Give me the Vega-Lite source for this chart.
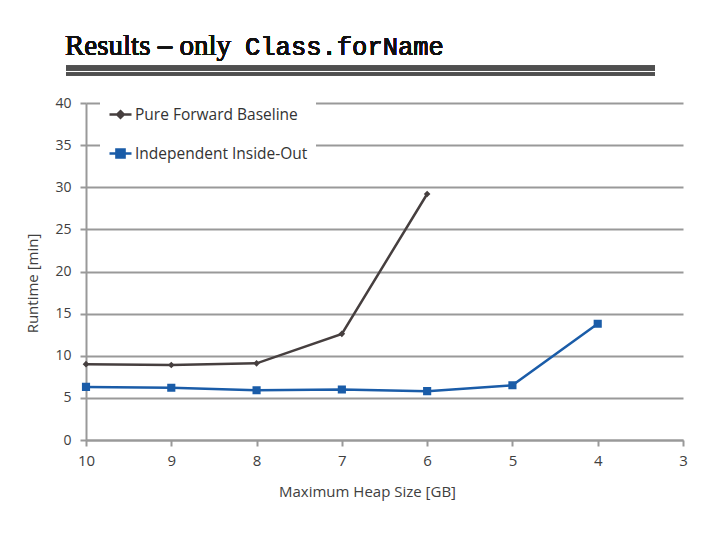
{
  "$schema": "https://vega.github.io/schema/vega-lite/v6.json",
  "autosize": {"type": "none"},
  "padding": {"left": 86, "top": 103, "right": 37, "bottom": 100},
  "width": 597,
  "height": 337,
  "background": "white",
  "config": {"view": {"stroke": null}, "font": "Open Sans"},
  "data": {
    "values": [
      {"heap": 10, "runtime": 9.0, "series": "Pure Forward Baseline"},
      {"heap": 9, "runtime": 8.9, "series": "Pure Forward Baseline"},
      {"heap": 8, "runtime": 9.1, "series": "Pure Forward Baseline"},
      {"heap": 7, "runtime": 12.6, "series": "Pure Forward Baseline"},
      {"heap": 6, "runtime": 29.2, "series": "Pure Forward Baseline"},
      {"heap": 10, "runtime": 6.3, "series": "Independent Inside-Out"},
      {"heap": 9, "runtime": 6.2, "series": "Independent Inside-Out"},
      {"heap": 8, "runtime": 5.9, "series": "Independent Inside-Out"},
      {"heap": 7, "runtime": 6.0, "series": "Independent Inside-Out"},
      {"heap": 6, "runtime": 5.8, "series": "Independent Inside-Out"},
      {"heap": 5, "runtime": 6.5, "series": "Independent Inside-Out"},
      {"heap": 4, "runtime": 13.8, "series": "Independent Inside-Out"}
    ]
  },
  "layer": [
    {
      "mark": {"type": "line", "strokeWidth": 2.5},
      "encoding": {
        "x": {
          "field": "heap", "type": "quantitative",
          "scale": {"domain": [3, 10], "reverse": true, "nice": false, "zero": false},
          "axis": {
            "title": "Maximum Heap Size [GB]", "values": [3, 4, 5, 6, 7, 8, 9, 10], "format": "d",
            "grid": false, "domainColor": "#999999", "domainWidth": 2,
            "tickColor": "#999999", "tickWidth": 2, "tickSize": 6, "labelFlush": false,
            "labelFontSize": 15, "labelColor": "#404040", "labelPadding": 7, "labelFont": "Open Sans",
            "titleFontSize": 15, "titleColor": "#404040", "titleFontWeight": "normal", "titleFont": "Open Sans",
            "titleX": 281, "titleY": 44
          }
        },
        "y": {
          "field": "runtime", "type": "quantitative",
          "scale": {"domain": [0, 40], "nice": false},
          "axis": {
            "title": "Runtime [min]", "values": [0, 5, 10, 15, 20, 25, 30, 35, 40],
            "grid": true, "gridColor": "#999999", "gridWidth": 2, "labelFlush": false,
            "domainColor": "#999999", "domainWidth": 2,
            "tickColor": "#999999", "tickWidth": 2, "tickSize": 6,
            "labelFontSize": 14, "labelColor": "#404040", "labelPadding": 9, "labelFont": "Open Sans",
            "titleFontSize": 15, "titleColor": "#404040", "titleFontWeight": "normal", "titleFont": "Open Sans",
            "titleX": -46, "titleY": 180
          }
        },
        "color": {
          "field": "series", "type": "nominal",
          "scale": {"domain": ["Pure Forward Baseline", "Independent Inside-Out"], "range": ["#463f3f", "#1a5ca8"]},
          "legend": {
            "title": null, "orient": "none", "legendX": 14, "legendY": -9,
            "fillColor": "white", "padding": 8, "rowPadding": 18, "labelLimit": 400,
            "labelFontSize": 15.5, "labelColor": "#333333", "labelFont": "Open Sans", "labelOffset": 2,
            "symbolSize": 484, "symbolStrokeWidth": 2.5
          }
        }
      }
    },
    {
      "mark": {"type": "point", "filled": true, "opacity": 1, "size": 484},
      "encoding": {
        "x": {"field": "heap", "type": "quantitative"},
        "y": {"field": "runtime", "type": "quantitative"},
        "color": {"field": "series", "type": "nominal"},
        "shape": {
          "field": "series", "type": "nominal",
          "scale": {"domain": ["Pure Forward Baseline", "Independent Inside-Out"], "range": ["M-1,0H1M0,-0.3L0.3,0L0,0.3L-0.3,0Z", "M-1,0H1M-0.37,-0.37H0.37V0.37H-0.37Z"]}
        }
      }
    },
    {
      "mark": {"type": "rule", "color": "#4f4f4f", "strokeWidth": 4.5},
      "encoding": {
        "x": {"datum": 10.234, "type": "quantitative"},
        "x2": {"datum": 3.329},
        "y": {"datum": 44.15, "type": "quantitative"}
      }
    },
    {
      "mark": {"type": "rule", "color": "#4f4f4f", "strokeWidth": 2.5},
      "encoding": {
        "x": {"datum": 10.234, "type": "quantitative"},
        "x2": {"datum": 3.329},
        "y": {"datum": 43.44, "type": "quantitative"}
      }
    },
    {
      "mark": {"type": "text", "text": "Results – only", "font": "Liberation Serif", "fontSize": 29, "fontWeight": "normal", "color": "#111111", "align": "left", "baseline": "alphabetic"},
      "encoding": {
        "x": {"datum": 10.246, "type": "quantitative"},
        "y": {"datum": 45.75, "type": "quantitative"}
      }
    },
    {
      "mark": {"type": "text", "text": "Class.forName", "font": "Liberation Mono", "fontSize": 25.5, "fontWeight": "normal", "color": "#111111", "align": "left", "baseline": "alphabetic"},
      "encoding": {
        "x": {"datum": 8.136, "type": "quantitative"},
        "y": {"datum": 45.75, "type": "quantitative"}
      }
    }
  ]
}
